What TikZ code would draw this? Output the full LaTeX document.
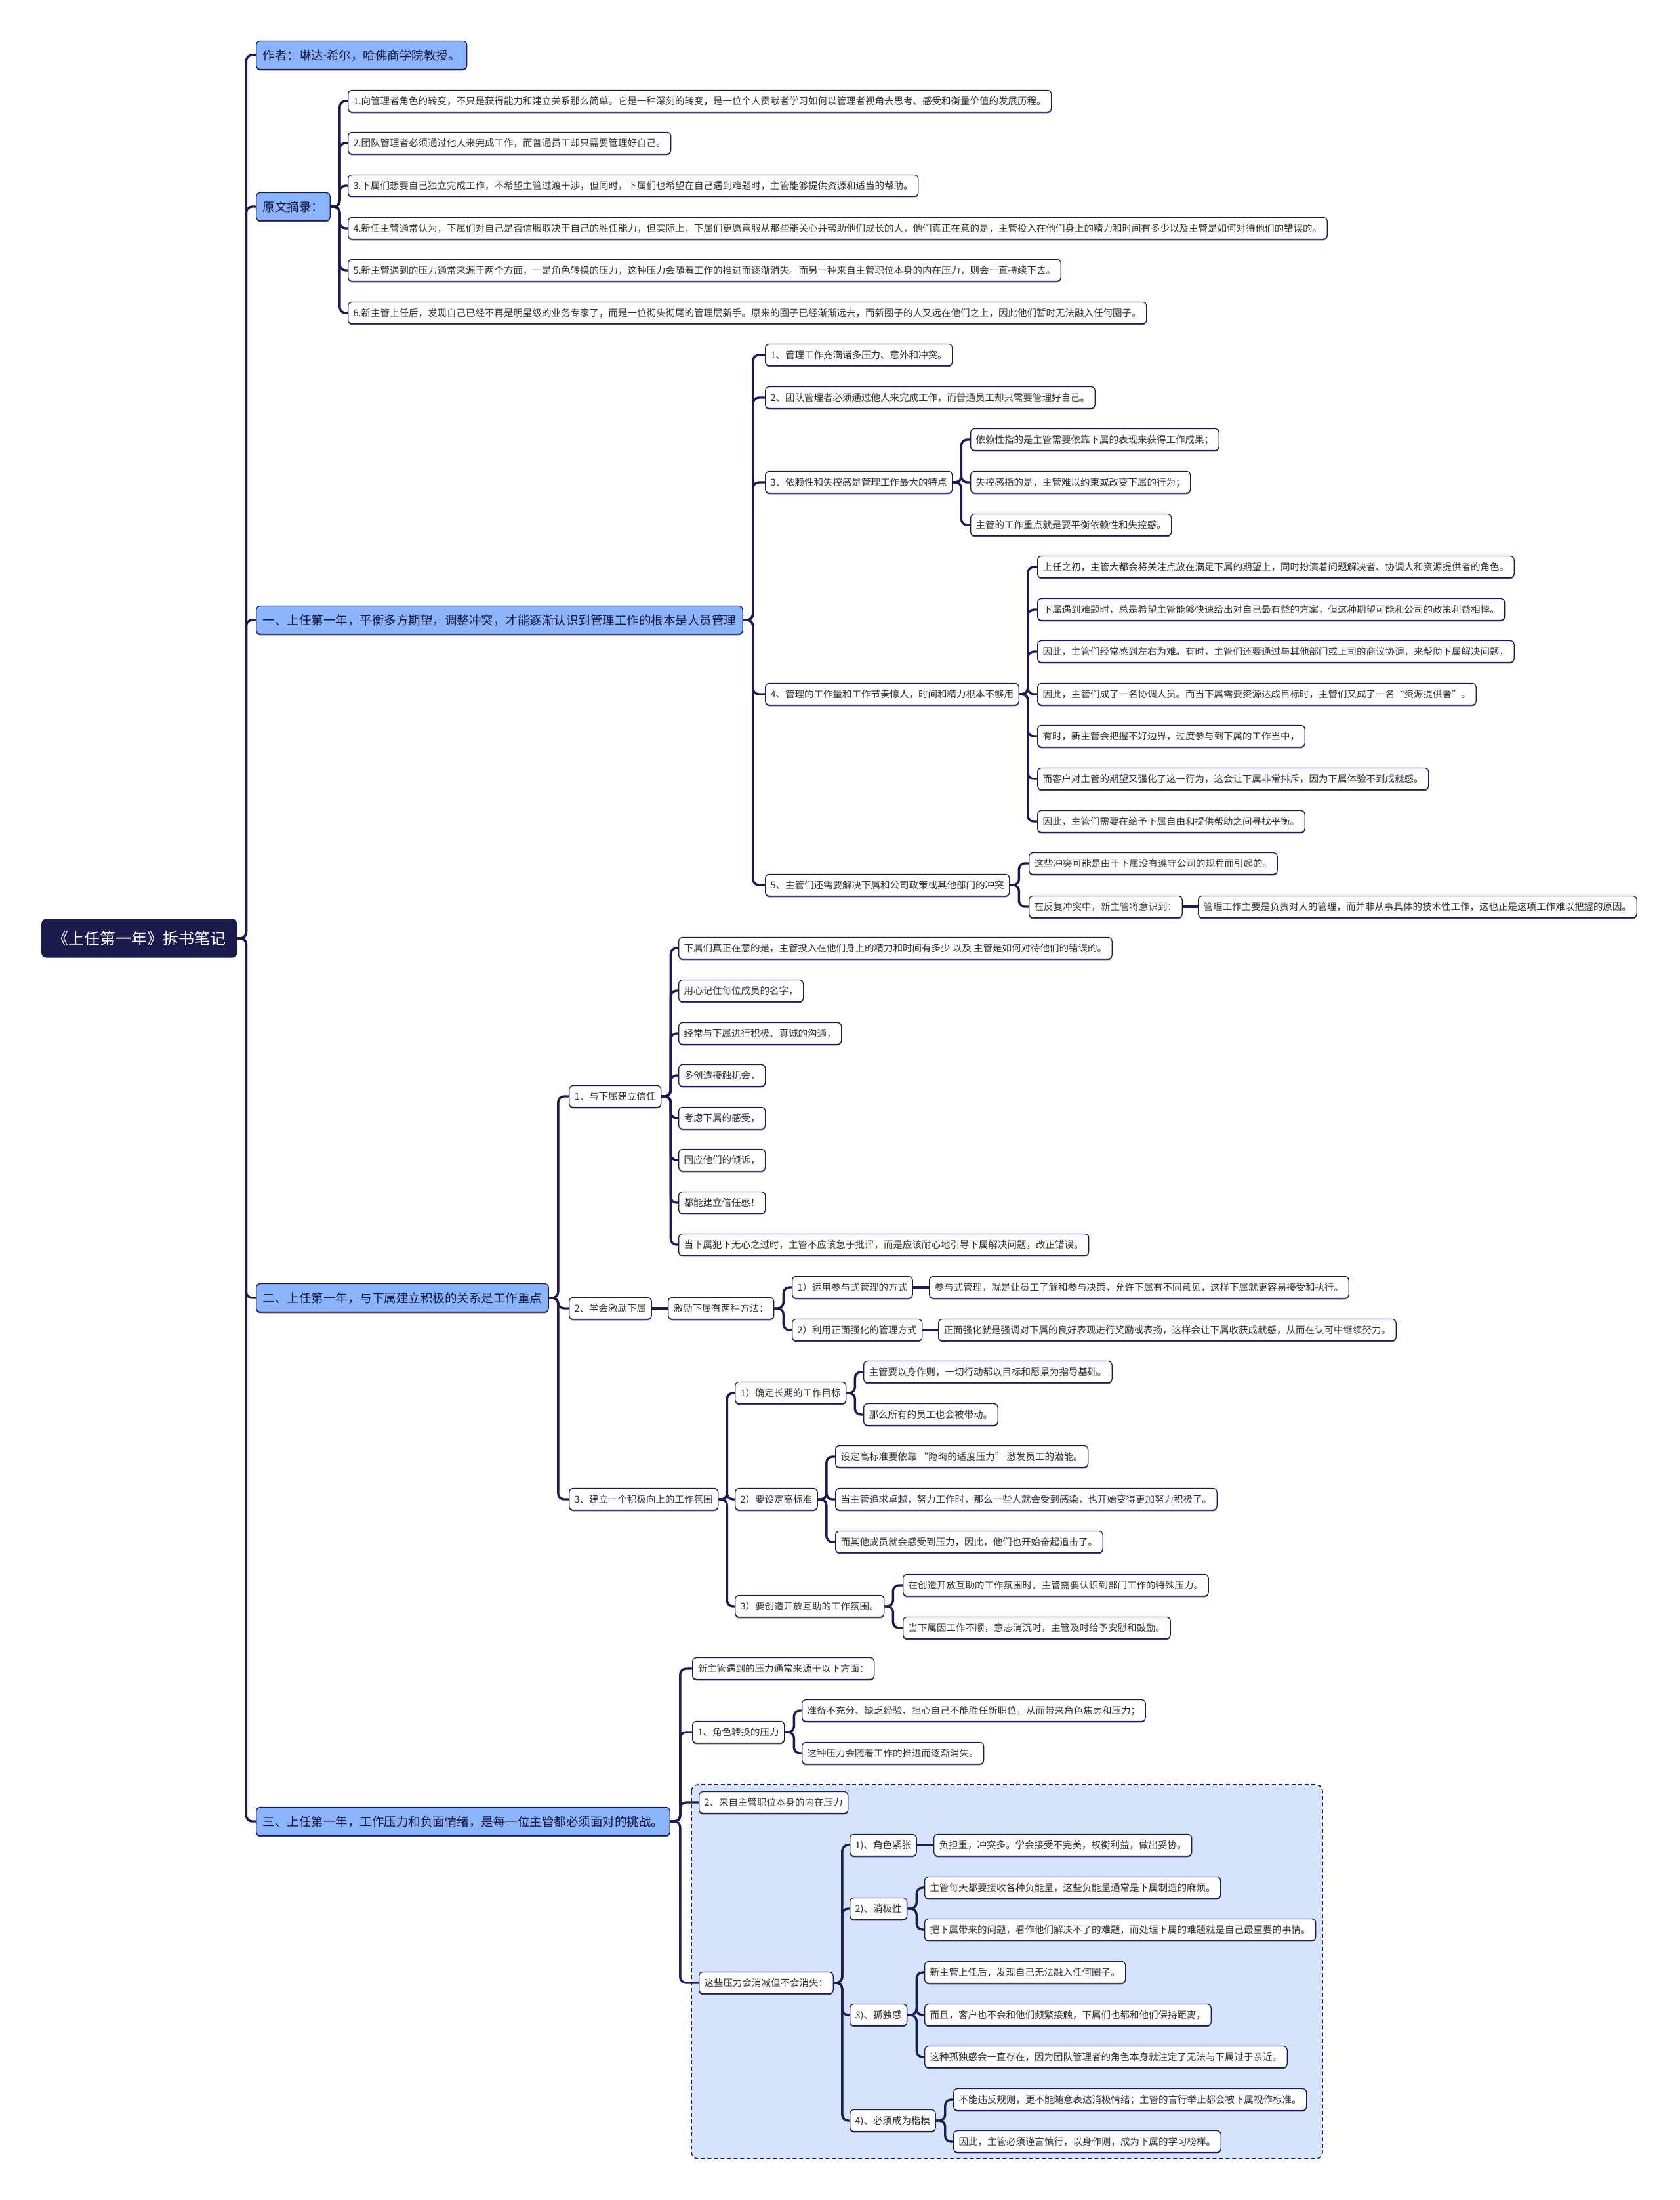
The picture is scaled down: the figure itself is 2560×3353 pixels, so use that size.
\documentclass[tikz,border=0pt]{standalone}
\usepackage{fontspec}
\setmainfont{Noto Sans CJK SC}
\newfontfamily\latinf{Noto Sans}
\usetikzlibrary{shadows}
\definecolor{navy}{HTML}{1C1B4E}
\definecolor{lblue}{HTML}{8CB4FA}
\definecolor{boxblue}{HTML}{D5E3FB}
\definecolor{txt}{HTML}{303030}
\tikzset{
  base/.style={anchor=west, rounded corners=6pt, inner ysep=0pt, align=left},
  leaf/.style={base, draw=navy, line width=1.3pt, fill=white, text=txt,
    font=\fontsize{14.5}{17}\selectfont, minimum height=33pt, inner xsep=8pt,
    text height=12.8pt, text depth=1.7pt,
    drop shadow={shadow xshift=0pt, shadow yshift=-1.8pt, fill=navy, opacity=0.8}},
  lone/.style={base, draw=navy, line width=1.3pt, fill=lblue, text=navy!80!black,
    font=\fontsize{18.5}{22}\selectfont, minimum height=43pt, inner xsep=10pt,
    text height=16.3pt, text depth=2.2pt,
    drop shadow={shadow xshift=0pt, shadow yshift=-1.8pt, fill=navy, opacity=0.8}},
  rootnode/.style={base, fill=navy, text=white, rounded corners=7pt,
    font=\fontsize{24}{28}\selectfont, minimum height=59pt, inner xsep=17pt,
    text height=21.1pt, text depth=2.9pt},
  conn/.style={draw=navy, line width=3.4pt, rounded corners=9pt},
  dashbox/.style={draw=navy, line width=1.6pt, dash pattern=on 6pt off 4pt, fill=boxblue, rounded corners=10pt}
}
\newcommand\branch[3]{\foreach \c in {#3} {\draw[conn] (#1.east) -- ++(#2,0) |- (\c.west);}}
\begin{document}
\begin{tikzpicture}[x=1pt,y=-1pt]
\useasboundingbox[fill=white] (0,0) rectangle (2560,3353);

% dashed group box
\draw[dashbox] (1054,2720) rectangle (2016,3290);

% root
\node[rootnode] (root) at (63,1430) {《上任第一年》拆书笔记};

% level 1
\node[lone] (a) at (390,84) {作者：琳达{\latinf ·}希尔，哈佛商学院教授。};
\node[lone, minimum width=112pt] (b) at (390,315) {原文摘录：};
\node[lone] (c) at (390,945) {一、上任第一年，平衡多方期望，调整冲突，才能逐渐认识到管理工作的根本是人员管理};
\node[lone] (d) at (390,1978) {二、上任第一年，与下属建立积极的关系是工作重点};
\node[lone] (e) at (390,2776) {三、上任第一年，工作压力和负面情绪，是每一位主管都必须面对的挑战。};

% 原文摘录
\node[leaf] (b1) at (530,154) {1.向管理者角色的转变，不只是获得能力和建立关系那么简单。它是一种深刻的转变，是一位个人贡献者学习如何以管理者视角去思考、感受和衡量价值的发展历程。};
\node[leaf] (b2) at (530,218) {2.团队管理者必须通过他人来完成工作，而普通员工却只需要管理好自己。};
\node[leaf] (b3) at (530,283) {3.下属们想要自己独立完成工作，不希望主管过渡干涉，但同时，下属们也希望在自己遇到难题时，主管能够提供资源和适当的帮助。};
\node[leaf] (b4) at (530,348) {4.新任主管通常认为，下属们对自己是否信服取决于自己的胜任能力，但实际上，下属们更愿意服从那些能关心并帮助他们成长的人，他们真正在意的是，主管投入在他们身上的精力和时间有多少以及主管是如何对待他们的错误的。};
\node[leaf] (b5) at (530,412) {5.新主管遇到的压力通常来源于两个方面，一是角色转换的压力，这种压力会随着工作的推进而逐渐消失。而另一种来自主管职位本身的内在压力，则会一直持续下去。};
\node[leaf] (b6) at (530,477) {6.新主管上任后，发现自己已经不再是明星级的业务专家了，而是一位彻头彻尾的管理层新手。原来的圈子已经渐渐远去，而新圈子的人又远在他们之上，因此他们暂时无法融入任何圈子。};

% 一
\node[leaf] (c1) at (1166,541) {1、管理工作充满诸多压力、意外和冲突。};
\node[leaf] (c2) at (1166,606) {2、团队管理者必须通过他人来完成工作，而普通员工却只需要管理好自己。};
\node[leaf] (c3) at (1166,735) {3、依赖性和失控感是管理工作最大的特点};
\node[leaf] (c3a) at (1479,670) {依赖性指的是主管需要依靠下属的表现来获得工作成果；};
\node[leaf] (c3b) at (1479,735) {失控感指的是，主管难以约束或改变下属的行为；};
\node[leaf] (c3c) at (1479,800) {主管的工作重点就是要平衡依赖性和失控感。};
\node[leaf] (c4) at (1166,1058) {4、管理的工作量和工作节奏惊人，时间和精力根本不够用};
\node[leaf] (c4a) at (1581,864) {上任之初，主管大都会将关注点放在满足下属的期望上，同时扮演着问题解决者、协调人和资源提供者的角色。};
\node[leaf] (c4b) at (1581,929) {下属遇到难题时，总是希望主管能够快速给出对自己最有益的方案，但这种期望可能和公司的政策利益相悖。};
\node[leaf] (c4c) at (1581,993) {因此，主管们经常感到左右为难。有时，主管们还要通过与其他部门或上司的商议协调，来帮助下属解决问题，};
\node[leaf] (c4d) at (1581,1058) {因此，主管们成了一名协调人员。而当下属需要资源达成目标时，主管们又成了一名“资源提供者”。};
\node[leaf] (c4e) at (1581,1122) {有时，新主管会把握不好边界，过度参与到下属的工作当中，};
\node[leaf] (c4f) at (1581,1187) {而客户对主管的期望又强化了这一行为，这会让下属非常排斥，因为下属体验不到成就感。};
\node[leaf] (c4g) at (1581,1252) {因此，主管们需要在给予下属自由和提供帮助之间寻找平衡。};
\node[leaf] (c5) at (1166,1349) {5、主管们还需要解决下属和公司政策或其他部门的冲突};
\node[leaf] (c5a) at (1568,1316) {这些冲突可能是由于下属没有遵守公司的规程而引起的。};
\node[leaf] (c5b) at (1568,1382) {在反复冲突中，新主管将意识到：};
\node[leaf] (c5c) at (1826,1382) {管理工作主要是负责对人的管理，而并非从事具体的技术性工作，这也正是这项工作难以把握的原因。};

% 二
\node[leaf] (d1) at (867,1671) {1、与下属建立信任};
\node[leaf] (d1a) at (1034,1445) {下属们真正在意的是，主管投入在他们身上的精力和时间有多少 以及 主管是如何对待他们的错误的。};
\node[leaf] (d1b) at (1034,1510) {用心记住每位成员的名字，};
\node[leaf] (d1c) at (1034,1575) {经常与下属进行积极、真诚的沟通，};
\node[leaf] (d1d) at (1034,1639) {多创造接触机会，};
\node[leaf] (d1e) at (1034,1704) {考虑下属的感受，};
\node[leaf] (d1f) at (1034,1768) {回应他们的倾诉，};
\node[leaf] (d1g) at (1034,1833) {都能建立信任感！};
\node[leaf] (d1h) at (1034,1897) {当下属犯下无心之过时，主管不应该急于批评，而是应该耐心地引导下属解决问题，改正错误。};
\node[leaf] (d2) at (867,1994) {2、学会激励下属};
\node[leaf] (d2x) at (1018,1994) {激励下属有两种方法：};
\node[leaf] (d2a) at (1207,1962) {1）运用参与式管理的方式};
\node[leaf] (d2a1) at (1416,1962) {参与式管理，就是让员工了解和参与决策，允许下属有不同意见，这样下属就更容易接受和执行。};
\node[leaf] (d2b) at (1207,2027) {2）利用正面强化的管理方式};
\node[leaf] (d2b1) at (1430,2027) {正面强化就是强调对下属的良好表现进行奖励或表扬，这样会让下属收获成就感，从而在认可中继续努力。};
\node[leaf] (d3) at (867,2285) {3、建立一个积极向上的工作氛围};
\node[leaf] (d3a) at (1120,2123) {1）确定长期的工作目标};
\node[leaf] (d3a1) at (1316,2091) {主管要以身作则，一切行动都以目标和愿景为指导基础。};
\node[leaf] (d3a2) at (1316,2156) {那么所有的员工也会被带动。};
\node[leaf] (d3b) at (1120,2285) {2）要设定高标准};
\node[leaf] (d3b1) at (1273,2220) {设定高标准要依靠 “隐晦的适度压力” 激发员工的潜能。};
\node[leaf] (d3b2) at (1273,2285) {当主管追求卓越，努力工作时，那么一些人就会受到感染，也开始变得更加努力积极了。};
\node[leaf] (d3b3) at (1273,2350) {而其他成员就会感受到压力，因此，他们也开始奋起追击了。};
\node[leaf] (d3c) at (1120,2448) {3）要创造开放互助的工作氛围。};
\node[leaf] (d3c1) at (1376,2416) {在创造开放互助的工作氛围时，主管需要认识到部门工作的特殊压力。};
\node[leaf] (d3c2) at (1376,2481) {当下属因工作不顺，意志消沉时，主管及时给予安慰和鼓励。};

% 三
\node[leaf] (e1) at (1055,2543) {新主管遇到的压力通常来源于以下方面：};
\node[leaf] (e2) at (1055,2640) {1、角色转换的压力};
\node[leaf] (e2a) at (1222,2607) {准备不充分、缺乏经验、担心自己不能胜任新职位，从而带来角色焦虑和压力；};
\node[leaf] (e2b) at (1222,2672) {这种压力会随着工作的推进而逐渐消失。};
\node[leaf] (e3) at (1065,2747) {2、来自主管职位本身的内在压力};
\node[leaf] (e4) at (1065,3022) {这些压力会消减但不会消失：};
\node[leaf] (e4a) at (1295,2812) {1)、角色紧张};
\node[leaf] (e4a1) at (1423,2812) {负担重，冲突多。学会接受不完美，权衡利益，做出妥协。};
\node[leaf] (e4b) at (1295,2909) {2)、消极性};
\node[leaf] (e4b1) at (1409,2877) {主管每天都要接收各种负能量，这些负能量通常是下属制造的麻烦。};
\node[leaf] (e4b2) at (1409,2941) {把下属带来的问题，看作他们解决不了的难题，而处理下属的难题就是自己最重要的事情。};
\node[leaf] (e4c) at (1295,3071) {3)、孤独感};
\node[leaf] (e4c1) at (1409,3006) {新主管上任后，发现自己无法融入任何圈子。};
\node[leaf] (e4c2) at (1409,3071) {而且，客户也不会和他们频繁接触，下属们也都和他们保持距离，};
\node[leaf] (e4c3) at (1409,3135) {这种孤独感会一直存在，因为团队管理者的角色本身就注定了无法与下属过于亲近。};
\node[leaf] (e4d) at (1295,3232) {4)、必须成为楷模};
\node[leaf] (e4d1) at (1453,3200) {不能违反规则，更不能随意表达消极情绪；主管的言行举止都会被下属视作标准。};
\node[leaf] (e4d2) at (1453,3264) {因此，主管必须谨言慎行，以身作则，成为下属的学习榜样。};

% connectors
\branch{root}{14}{a,b,c,d,e}
\branch{b}{14}{b1,b2,b3,b4,b5,b6}
\branch{c}{15}{c1,c2,c3,c4,c5}
\branch{c3}{13}{c3a,c3b,c3c}
\branch{c4}{13}{c4a,c4b,c4c,c4d,c4e,c4f,c4g}
\branch{c5}{14}{c5a,c5b}
\draw[conn] (c5b.east) -- (c5c.west);
\branch{d}{14}{d1,d2,d3}
\branch{d1}{14}{d1a,d1b,d1c,d1d,d1e,d1f,d1g,d1h}
\draw[conn] (d2.east) -- (d2x.west);
\branch{d2x}{14}{d2a,d2b}
\draw[conn] (d2a.east) -- (d2a1.west);
\draw[conn] (d2b.east) -- (d2b1.west);
\branch{d3}{13}{d3a,d3b,d3c}
\branch{d3a}{13}{d3a1,d3a2}
\branch{d3b}{13}{d3b1,d3b2,d3b3}
\branch{d3c}{13}{d3c1,d3c2}
\branch{e}{15}{e1,e2,e3,e4}
\branch{e2}{14}{e2a,e2b}
\branch{e4}{13}{e4a,e4b,e4c,e4d}
\draw[conn] (e4a.east) -- (e4a1.west);
\branch{e4b}{14}{e4b1,e4b2}
\branch{e4c}{14}{e4c1,e4c2,e4c3}
\branch{e4d}{14}{e4d1,e4d2}
\end{tikzpicture}
\end{document}
